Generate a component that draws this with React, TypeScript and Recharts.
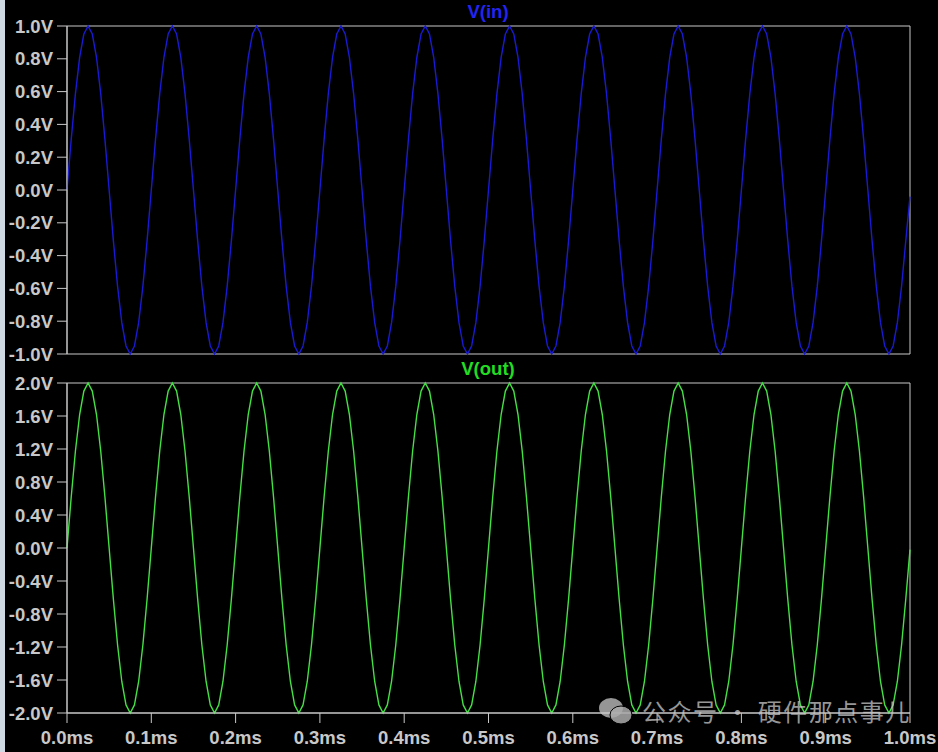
import React from "react";
import { LineChart, Line, XAxis, YAxis, ReferenceArea } from "recharts";

// time in microseconds
const timeUs = [
  0, 5, 10, 15, 20, 25, 30, 35, 40, 45, 50, 55, 60, 65, 70, 75, 80, 85, 90, 95,
  100, 105, 110, 115, 120, 125, 130, 135, 140, 145, 150, 155, 160, 165, 170, 175, 180, 185, 190, 195,
  200, 205, 210, 215, 220, 225, 230, 235, 240, 245, 250, 255, 260, 265, 270, 275, 280, 285, 290, 295,
  300, 305, 310, 315, 320, 325, 330, 335, 340, 345, 350, 355, 360, 365, 370, 375, 380, 385, 390, 395,
  400, 405, 410, 415, 420, 425, 430, 435, 440, 445, 450, 455, 460, 465, 470, 475, 480, 485, 490, 495,
  500, 505, 510, 515, 520, 525, 530, 535, 540, 545, 550, 555, 560, 565, 570, 575, 580, 585, 590, 595,
  600, 605, 610, 615, 620, 625, 630, 635, 640, 645, 650, 655, 660, 665, 670, 675, 680, 685, 690, 695,
  700, 705, 710, 715, 720, 725, 730, 735, 740, 745, 750, 755, 760, 765, 770, 775, 780, 785, 790, 795,
  800, 805, 810, 815, 820, 825, 830, 835, 840, 845, 850, 855, 860, 865, 870, 875, 880, 885, 890, 895,
  900, 905, 910, 915, 920, 925, 930, 935, 940, 945, 950, 955, 960, 965, 970, 975, 980, 985, 990, 995,
  1000,
];

const vIn = [
  0, 0.309, 0.588, 0.809, 0.951, 1, 0.951, 0.809, 0.588, 0.309, 0, -0.309, -0.588, -0.809, -0.951, -1, -0.951, -0.809, -0.588, -0.309,
  0, 0.309, 0.588, 0.809, 0.951, 1, 0.951, 0.809, 0.588, 0.309, 0, -0.309, -0.588, -0.809, -0.951, -1, -0.951, -0.809, -0.588, -0.309,
  0, 0.309, 0.588, 0.809, 0.951, 1, 0.951, 0.809, 0.588, 0.309, 0, -0.309, -0.588, -0.809, -0.951, -1, -0.951, -0.809, -0.588, -0.309,
  0, 0.309, 0.588, 0.809, 0.951, 1, 0.951, 0.809, 0.588, 0.309, 0, -0.309, -0.588, -0.809, -0.951, -1, -0.951, -0.809, -0.588, -0.309,
  0, 0.309, 0.588, 0.809, 0.951, 1, 0.951, 0.809, 0.588, 0.309, 0, -0.309, -0.588, -0.809, -0.951, -1, -0.951, -0.809, -0.588, -0.309,
  0, 0.309, 0.588, 0.809, 0.951, 1, 0.951, 0.809, 0.588, 0.309, 0, -0.309, -0.588, -0.809, -0.951, -1, -0.951, -0.809, -0.588, -0.309,
  0, 0.309, 0.588, 0.809, 0.951, 1, 0.951, 0.809, 0.588, 0.309, 0, -0.309, -0.588, -0.809, -0.951, -1, -0.951, -0.809, -0.588, -0.309,
  0, 0.309, 0.588, 0.809, 0.951, 1, 0.951, 0.809, 0.588, 0.309, 0, -0.309, -0.588, -0.809, -0.951, -1, -0.951, -0.809, -0.588, -0.309,
  0, 0.309, 0.588, 0.809, 0.951, 1, 0.951, 0.809, 0.588, 0.309, 0, -0.309, -0.588, -0.809, -0.951, -1, -0.951, -0.809, -0.588, -0.309,
  0, 0.309, 0.588, 0.809, 0.951, 1, 0.951, 0.809, 0.588, 0.309, 0, -0.309, -0.588, -0.809, -0.951, -1, -0.951, -0.809, -0.588, -0.309,
  -0.04,
];

const vOut = [
  0, 0.618, 1.176, 1.618, 1.902, 2, 1.902, 1.618, 1.176, 0.618, 0, -0.618, -1.176, -1.618, -1.902, -2, -1.902, -1.618, -1.176, -0.618,
  0, 0.618, 1.176, 1.618, 1.902, 2, 1.902, 1.618, 1.176, 0.618, 0, -0.618, -1.176, -1.618, -1.902, -2, -1.902, -1.618, -1.176, -0.618,
  0, 0.618, 1.176, 1.618, 1.902, 2, 1.902, 1.618, 1.176, 0.618, 0, -0.618, -1.176, -1.618, -1.902, -2, -1.902, -1.618, -1.176, -0.618,
  0, 0.618, 1.176, 1.618, 1.902, 2, 1.902, 1.618, 1.176, 0.618, 0, -0.618, -1.176, -1.618, -1.902, -2, -1.902, -1.618, -1.176, -0.618,
  0, 0.618, 1.176, 1.618, 1.902, 2, 1.902, 1.618, 1.176, 0.618, 0, -0.618, -1.176, -1.618, -1.902, -2, -1.902, -1.618, -1.176, -0.618,
  0, 0.618, 1.176, 1.618, 1.902, 2, 1.902, 1.618, 1.176, 0.618, 0, -0.618, -1.176, -1.618, -1.902, -2, -1.902, -1.618, -1.176, -0.618,
  0, 0.618, 1.176, 1.618, 1.902, 2, 1.902, 1.618, 1.176, 0.618, 0, -0.618, -1.176, -1.618, -1.902, -2, -1.902, -1.618, -1.176, -0.618,
  0, 0.618, 1.176, 1.618, 1.902, 2, 1.902, 1.618, 1.176, 0.618, 0, -0.618, -1.176, -1.618, -1.902, -2, -1.902, -1.618, -1.176, -0.618,
  0, 0.618, 1.176, 1.618, 1.902, 2, 1.902, 1.618, 1.176, 0.618, 0, -0.618, -1.176, -1.618, -1.902, -2, -1.902, -1.618, -1.176, -0.618,
  0, 0.618, 1.176, 1.618, 1.902, 2, 1.902, 1.618, 1.176, 0.618, 0, -0.618, -1.176, -1.618, -1.902, -2, -1.902, -1.618, -1.176, -0.618,
  -0.02,
];

const xTicks = [0, 100, 200, 300, 400, 500, 600, 700, 800, 900, 1000];
const xTickLabels = ["0.0ms", "0.1ms", "0.2ms", "0.3ms", "0.4ms", "0.5ms", "0.6ms", "0.7ms", "0.8ms", "0.9ms", "1.0ms"];
const inTicks = [-1, -0.8, -0.6, -0.4, -0.2, 0, 0.2, 0.4, 0.6, 0.8, 1];
const inTickLabels = ["-1.0V", "-0.8V", "-0.6V", "-0.4V", "-0.2V", "0.0V", "0.2V", "0.4V", "0.6V", "0.8V", "1.0V"];
const outTicks = [-2, -1.6, -1.2, -0.8, -0.4, 0, 0.4, 0.8, 1.2, 1.6, 2];
const outTickLabels = ["-2.0V", "-1.6V", "-1.2V", "-0.8V", "-0.4V", "0.0V", "0.4V", "0.8V", "1.2V", "1.6V", "2.0V"];

const data = timeUs.map((t, i) => ({ t, vin: vIn[i], vout: vOut[i] }));

const GREY = "#c8c8c8";
const FONT = "'Liberation Sans', Arial, sans-serif";
const tickStyle = { fill: GREY, fontSize: 18.5, fontWeight: 700, fontFamily: FONT };

const fmt = (ticks: number[], labels: string[]) => (v: number) => {
  const i = ticks.findIndex((x) => Math.abs(x - v) < 1e-6);
  return i >= 0 ? labels[i] : String(v);
};

export default function App() {
  return (
    <div
      style={{
        position: "absolute",
        left: 0,
        top: 0,
        width: 938,
        height: 752,
        background: "#000",
        overflow: "hidden",
      }}
    >
      <div style={{ position: "absolute", left: 0, top: 0, width: 5, height: 752, background: "#cfd9e4" }} />

      <div style={{ position: "absolute", left: 0, top: 0 }}>
        <LineChart width={938} height={370} data={data} margin={{ top: 26, right: 28, bottom: 16, left: 0 }}>
          <XAxis dataKey="t" type="number" domain={[0, 1000]} ticks={xTicks} hide />
          <YAxis
            type="number"
            domain={[-1, 1]}
            ticks={inTicks}
            interval={0}
            width={67}
            tickSize={10}
            tickMargin={4}
            axisLine={{ stroke: GREY }}
            tickLine={{ stroke: GREY }}
            tick={tickStyle}
            tickFormatter={fmt(inTicks, inTickLabels)}
          />
          <ReferenceArea x1={0} x2={1000} y1={-1} y2={1} fill="none" stroke={GREY} strokeWidth={1} fillOpacity={0} />
          <Line type="linear" dataKey="vin" stroke="#1a1ad2" strokeWidth={1.4} dot={false} isAnimationActive={false} />
        </LineChart>
      </div>

      <div style={{ position: "absolute", left: 0, top: 354 }}>
        <LineChart width={938} height={398} data={data} margin={{ top: 29, right: 28, bottom: 0, left: 0 }}>
          <XAxis
            dataKey="t"
            type="number"
            domain={[0, 1000]}
            ticks={xTicks}
            interval={0}
            height={39}
            tickSize={10}
            tickMargin={8}
            axisLine={{ stroke: GREY }}
            tickLine={{ stroke: GREY }}
            tick={tickStyle}
            tickFormatter={fmt(xTicks, xTickLabels)}
          />
          <YAxis
            type="number"
            domain={[-2, 2]}
            ticks={outTicks}
            interval={0}
            width={67}
            tickSize={10}
            tickMargin={4}
            axisLine={{ stroke: GREY }}
            tickLine={{ stroke: GREY }}
            tick={tickStyle}
            tickFormatter={fmt(outTicks, outTickLabels)}
          />
          <ReferenceArea x1={0} x2={1000} y1={-2} y2={2} fill="none" stroke={GREY} strokeWidth={1} fillOpacity={0} />
          <Line type="linear" dataKey="vout" stroke="#44e044" strokeWidth={1.4} dot={false} isAnimationActive={false} />
        </LineChart>
      </div>

      <div
        style={{
          position: "absolute",
          left: 388,
          width: 200,
          top: 1,
          textAlign: "center",
          color: "#2424f0",
          fontFamily: FONT,
          fontWeight: 700,
          fontSize: 18.5,
        }}
      >
        V(in)
      </div>
      <div
        style={{
          position: "absolute",
          left: 388,
          width: 200,
          top: 358,
          textAlign: "center",
          color: "#22dd22",
          fontFamily: FONT,
          fontWeight: 700,
          fontSize: 18.5,
        }}
      >
        V(out)
      </div>

      <div
        style={{
          position: "absolute",
          left: 598,
          top: 697,
          height: 28,
          display: "flex",
          alignItems: "center",
          color: "rgba(200,200,200,0.75)",
          fontFamily: "'Noto Sans CJK SC', sans-serif",
          fontSize: 24,
          lineHeight: 1,
          whiteSpace: "nowrap",
        }}
      >
        <svg width={36} height={30} viewBox="0 0 36 30" style={{ marginRight: 8 }}>
          <ellipse cx={13} cy={12} rx={12} ry={10} fill="rgba(200,200,200,0.75)" />
          <ellipse cx={23} cy={19} rx={11} ry={9} fill="rgba(170,170,170,0.85)" stroke="#000" strokeWidth={1} />
        </svg>
        <span style={{ lineHeight: 1, letterSpacing: 1.5 }}>公众号 · 硬件那点事儿</span>
      </div>
    </div>
  );
}
